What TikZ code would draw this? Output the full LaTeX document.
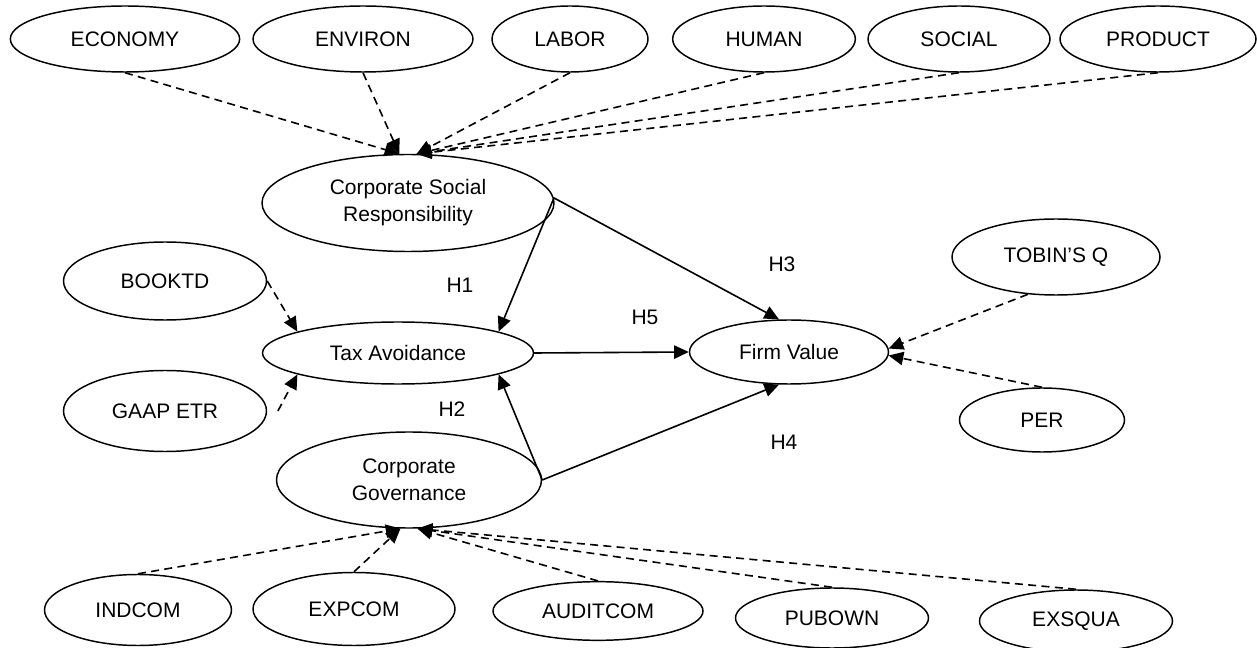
\documentclass[tikz,border=0pt]{standalone}
\usepackage{fontspec}
\setmainfont{Liberation Sans}
\usetikzlibrary{shapes.geometric,arrows.meta}

\begin{document}
\begin{tikzpicture}[x=0.75pt,y=-0.75pt,myv/.style={ellipse, draw, line width=1.1pt, inner sep=0pt, align=center, font=\fontsize{15.75}{20.25}\selectfont},myh/.style={inner sep=0pt, font=\fontsize{15.75}{20.25}\selectfont},myarr/.style={-{Triangle[length=11pt,width=10pt]}, line width=1.2pt},myarr1/.style={myarr, dash pattern=on 6pt off 4pt}]
 \useasboundingbox (0,0) rectangle (1257,648);
 % \node[myv] (top) at (628,39) {};

  \node[myv, minimum width=172pt, minimum height=49.5pt] (eco) at (125,39) {ECONOMY};
  \node[myv, minimum width=165pt, minimum height=49.5pt] (env) at (363,39) {ENVIRON};
  \node[myv, minimum width=117pt, minimum height=49.5pt] (lab) at (570,39) {LABOR};
  \node[myv, minimum width=137pt, minimum height=49.5pt] (hum) at (764,39) {HUMAN};
  \node[myv, minimum width=136.5pt, minimum height=49.5pt] (soc) at (959,39) {SOCIAL};
  \node[myv, minimum width=147pt, minimum height=49.5pt] (pro) at (1158,39) {PRODUCT};

  \node[myv, minimum width=219pt, minimum height=72.75pt] (csr) at (408,203) {Corporate Social\\Responsibility};
  \node[myv, minimum width=203.25pt, minimum height=46.5pt] (ta) at (398,353) {Tax Avoidance};
  \node[myv, minimum width=198.75pt, minimum height=72pt] (cg) at (409,480) {Corporate\\Governance};
  \node[myv, minimum width=149.25pt, minimum height=48pt] (fv) at (789,352) {Firm Value};

  \node[myv, minimum width=152.25pt, minimum height=58.5pt] (btd) at (165,281) {BOOKTD};
  \node[myv, minimum width=152.25pt, minimum height=60.75pt] (etr) at (165,411) {GAAP ETR};
  \node[myv, minimum width=156pt, minimum height=57pt] (tq) at (1056,257) {TOBIN’S Q};
  \node[myv, minimum width=123.75pt, minimum height=48pt] (per) at (1042,420) {PER};

  \node[myv, minimum width=140.25pt, minimum height=53.25pt] (ind) at (138,610) {INDCOM};
  \node[myv, minimum width=151.5pt, minimum height=54.75pt] (exp) at (354,609) {EXPCOM};
  \node[myv, minimum width=157.5pt, minimum height=44pt] (aud) at (598,611) {AUDITCOM};
  \node[myv, minimum width=144.75pt, minimum height=45pt] (pub) at (832,618) {PUBOWN};
  \node[myv, minimum width=144.75pt, minimum height=46.5pt] (exs) at (1076,621) {EXSQUA};

  \node[myh] (h1) at (460,285) {H1};
  \node[myh] (h2) at (452,409) {H2};
  \node[myh] (h3) at (782,264) {H3};
  \node[myh] (h4) at (784,442) {H4};
  \node[myh] (h5) at (645,317) {H5};

    \draw[myarr1] (eco.south) -- (csr.100);
    \draw[myarr1] (env.south) -- (csr.100);
    \draw[myarr1] (lab.south) -- (csr.80);
    \draw[myarr1] (hum.south) -- (csr.80);
    \draw[myarr1] (soc.south) -- (csr.80);
    \draw[myarr1] (pro.south) -- (csr.80);

    \draw[myarr1] (btd.east) -- (ta.168);
    \draw[myarr1] ([xshift=8pt]etr.east) -- (ta.192);
    \draw[myarr1] (tq.233) -- (fv.2);
    \draw[myarr1] (per.north) -- (fv.-2);

    \draw[myarr1] (ind.north) -- (cg.260);
    \draw[myarr1] (exp.north) -- (cg.260);
    \draw[myarr1] (aud.north) -- (cg.280);
    \draw[myarr1] (pub.north) -- (cg.280);
    \draw[myarr1] (exs.north) -- (cg.280);

    \draw[myarr] (csr.2) -- (ta.12);
    \draw[myarr] (cg.east) -- (ta.-12);
    \draw[myarr] (csr.2) -- (fv.107);
    \draw[myarr] (cg.east) -- (fv.253);
    \draw[myarr] (ta.east) -- (fv.west);

\end{tikzpicture}
\end{document}
